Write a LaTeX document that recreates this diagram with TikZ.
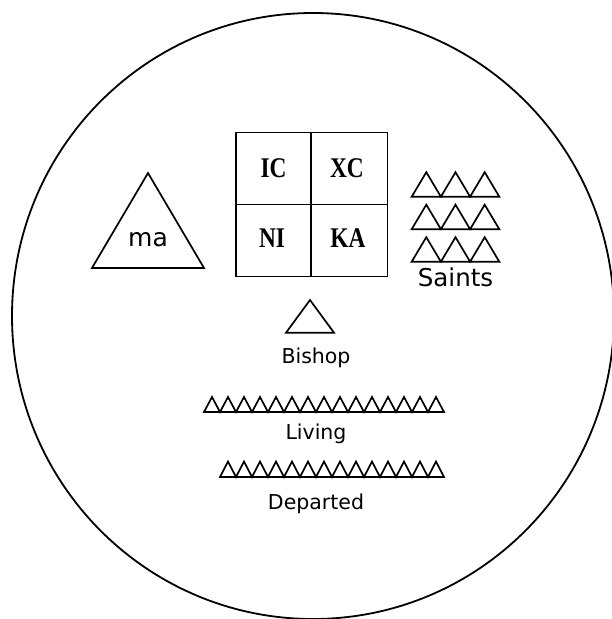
\documentclass[tikz,border=0pt]{standalone}
\usepackage{fontspec}
\setmainfont{DejaVu Sans}
\newfontfamily\icfont[FakeStretch=0.82]{Liberation Serif}
\begin{document}
\begin{tikzpicture}[x=1pt,y=-1pt,
  shp/.style={line width=1.7pt},
  lbl/.style={inner sep=0pt, anchor=base, font=\fontsize{20.5}{24}\selectfont},
  big/.style={inner sep=0pt, anchor=base, font=\fontsize{24.5}{28}\selectfont},
  ic/.style={inner sep=0pt, anchor=base, font=\icfont\bfseries\fontsize{28.5}{30}\selectfont}]
\useasboundingbox (0,0) rectangle (612,619);
\clip (0,0) rectangle (612,619);
\fill[white] (0,0) rectangle (612,619);
% outer circle
\draw[line width=1.8pt] (313,316) ellipse [x radius=301pt, y radius=303pt];
% Theotokos triangle
\draw[shp] (148,173) -- (204,268) -- (92,268) -- cycle;
\node[big, font=\fontsize{25}{28}\selectfont] (ma) at (148,246) {ma};
% IC XC NI KA box
\draw[shp] (236,132.5) rectangle (387.5,276.5);
\draw[shp] (311,132.5) -- (311,276.5);
\draw[shp] (236,204.5) -- (387.5,204.5);
\node[ic] (ic) at (273.5,177.5) {IC};
\node[ic] (xc) at (347,177.5) {XC};
\node[ic] (ni) at (272,247.5) {NI};
\node[ic] (ka) at (348,247.5) {KA};
% Saints
\foreach \r in {0,1,2} \foreach \c in {0,1,2}
  \draw[shp] ({411.7+29.2*\c},{196.7+32.5*\r}) -- ++(14.6,-24.5) -- ++(14.6,24.5) -- cycle;
\node[big] (saints) at (455.5,286) {Saints};
% Bishop
\draw[shp] (286,332.7) -- (310,300) -- (334,332.7) -- cycle;
\node[lbl] (bishop) at (316,363.3) {Bishop};
% Living
\draw[shp] (204,412) \foreach \i in {1,...,15} { -- ++(8,-15) -- ++(8,15) } -- cycle;
\node[lbl] (living) at (316,439.3) {Living};
% Departed
\draw[shp] (220,477) \foreach \i in {1,...,14} { -- ++(8,-15.5) -- ++(8,15.5) } -- cycle;
\node[lbl] (departed) at (316,509.5) {Departed};
\end{tikzpicture}
\end{document}
